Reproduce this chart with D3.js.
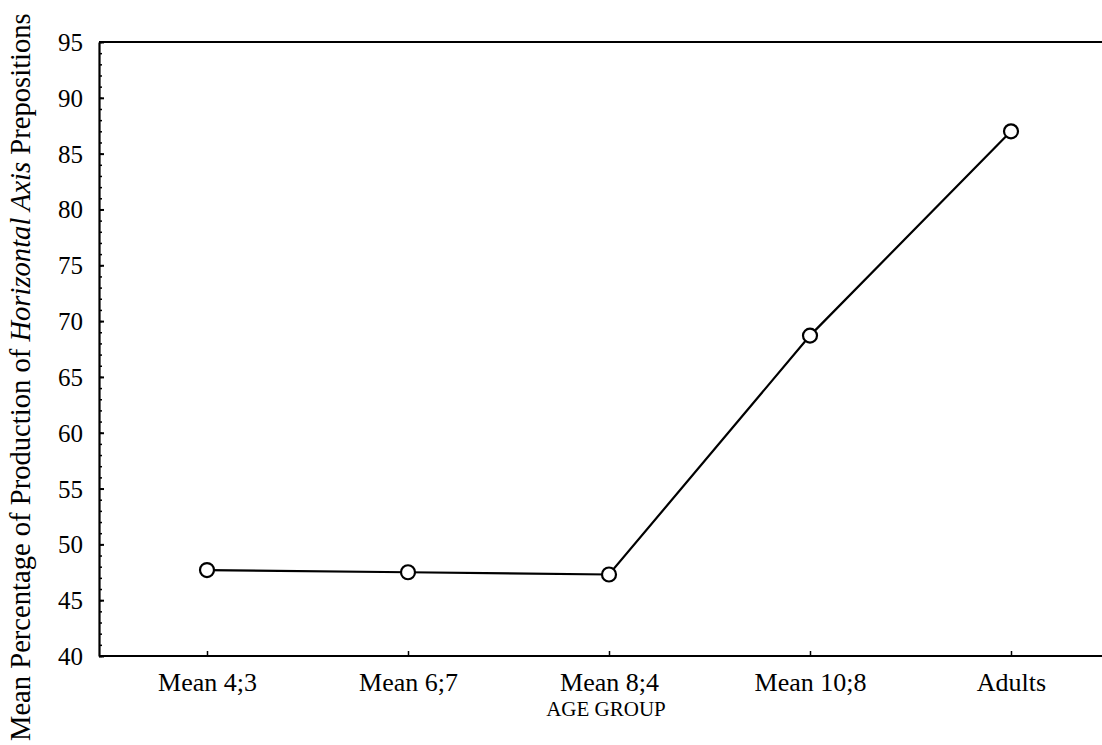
<!DOCTYPE html>
<html>
<head>
<meta charset="utf-8">
<script src="https://cdn.jsdelivr.net/npm/d3@7"></script>
<style>
  html, body { margin: 0; padding: 0; background: #fff; }
  svg { display: block; }
  text { font-family: "Liberation Serif", "Times New Roman", serif; fill: #000; }
</style>
</head>
<body>
<svg id="chart" width="1102" height="745"></svg>
<script>
// Age groups and mean percentage of horizontal-axis prepositions produced
const ageGroups = ["Mean 4;3", "Mean 6;7", "Mean 8;4", "Mean 10;8", "Adults"];
const meanPercent = [47.7, 47.5, 47.3, 68.7, 87.0];
const yMajorTicks = [40, 45, 50, 55, 60, 65, 70, 75, 80, 85, 90, 95];
const yMinorTicks = d3.range(40, 96, 1);

const svg = d3.select("#chart");
const plotLeft = 99, plotRight = 1102, plotTop = 42, plotBottom = 656;

const x = d3.scalePoint().domain(ageGroups).range([207, 1011]);
const y = d3.scaleLinear().domain([40, 95]).range([plotBottom, plotTop]);

// top border of the frame
svg.append("line")
  .attr("x1", plotLeft).attr("x2", plotRight).attr("y1", plotTop).attr("y2", plotTop)
  .attr("stroke", "#000").attr("stroke-width", 2);

// minor y ticks (inward)
svg.append("g")
  .attr("transform", `translate(${plotLeft},0)`)
  .call(d3.axisLeft(y).tickValues(yMinorTicks).tickSize(-3).tickFormat(""))
  .call(g => g.select(".domain").remove())
  .call(g => g.selectAll("line").attr("stroke-width", 1.5));

// major y ticks with labels
svg.append("g")
  .attr("transform", `translate(${plotLeft},0)`)
  .call(d3.axisLeft(y).tickValues(yMajorTicks).tickSizeInner(-5).tickSizeOuter(0).tickPadding(16))
  .call(g => g.select(".domain").attr("stroke-width", 2.2))
  .call(g => g.selectAll("line").attr("stroke-width", 2))
  .call(g => g.selectAll("text")
    .style("font-family", "'Liberation Serif', serif")
    .style("font-size", "25px")
    .attr("dy", "0.34em"));

// x axis with inward ticks at each age group
svg.append("g")
  .attr("transform", `translate(0,${plotBottom})`)
  .call(d3.axisBottom(x).tickSizeInner(-5).tickSizeOuter(0).tickPadding(17))
  .call(g => g.select(".domain").attr("d", `M${plotLeft},0H${plotRight}`).attr("stroke-width", 2.2))
  .call(g => g.selectAll("line").attr("stroke-width", 1.5))
  .call(g => g.selectAll("text")
    .style("font-family", "'Liberation Serif', serif")
    .style("font-size", "26px"));

// axis titles
svg.append("text")
  .attr("x", 606).attr("y", 716)
  .attr("text-anchor", "middle")
  .style("font-size", "21px")
  .text("AGE GROUP");

const yTitle = svg.append("text")
  .attr("transform", "translate(30,741) rotate(-90)")
  .attr("text-anchor", "start")
  .style("font-size", "28.6px");
yTitle.append("tspan").text("Mean Percentage of Production of ");
yTitle.append("tspan").style("font-style", "italic").text("Horizontal Axis");
yTitle.append("tspan").text(" Prepositions");

// data line and markers
const line = d3.line()
  .x((d, i) => x(ageGroups[i]))
  .y(d => y(d));

svg.append("path")
  .datum(meanPercent)
  .attr("d", line)
  .attr("fill", "none")
  .attr("stroke", "#000")
  .attr("stroke-width", 2.2);

svg.selectAll("circle.pt")
  .data(meanPercent)
  .join("circle")
  .attr("class", "pt")
  .attr("cx", (d, i) => x(ageGroups[i]))
  .attr("cy", d => y(d))
  .attr("r", 7)
  .attr("fill", "#fff")
  .attr("stroke", "#000")
  .attr("stroke-width", 2.2);
</script>
</body>
</html>
